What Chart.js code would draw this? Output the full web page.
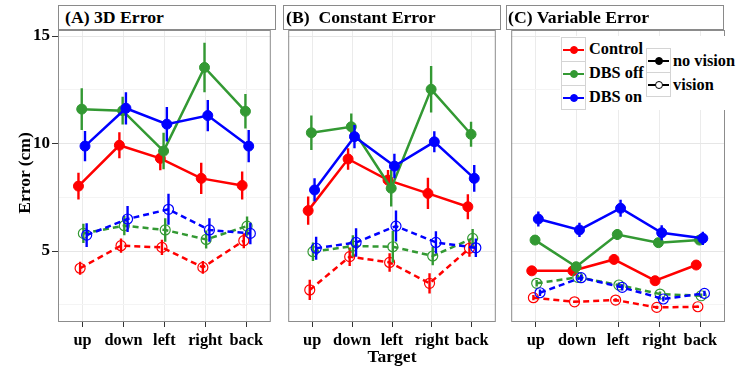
<!DOCTYPE html>
<html><head><meta charset="utf-8">
<script src="https://cdn.jsdelivr.net/npm/chart.js@4.4.0/dist/chart.umd.min.js"></script>
<style>
body{margin:0;width:737px;height:367px;background:#fff;position:relative;overflow:hidden;font-family:'Liberation Serif','Times New Roman',serif;font-weight:bold;color:#000}
canvas{position:absolute;top:0}
.strip{position:absolute;top:5px;height:25px;width:218px;box-sizing:border-box;border:1px solid #8a8a8a;background:#fff;font-size:17.7px;line-height:23px;white-space:pre;z-index:2}
.lbl{position:absolute;font-size:17.5px;line-height:20px;white-space:nowrap;z-index:2}
.legbg{position:absolute;left:560px;top:36px;width:177px;height:74px;background:#fff;z-index:3}
.key{position:absolute;width:25px;height:25px;box-sizing:border-box;border:1px solid #d4d4d4;background:#fff;z-index:4}
.ln{position:absolute;left:1px;right:1px;top:10.5px;height:2px}
.dt{position:absolute;left:7.5px;top:7.5px;width:8px;height:8px;border-radius:50%;box-sizing:border-box;border:1.5px solid}
.lt{position:absolute;font-size:16.3px;line-height:18px;white-space:nowrap;z-index:4}
</style>
</head><body>
<canvas id="cA" width="277" height="367" style="left:0px"></canvas>
<canvas id="cB" width="220" height="367" style="left:282px"></canvas>
<canvas id="cC" width="232" height="367" style="left:505px"></canvas>

<div class="strip" style="left:58px;padding-left:6px">(A) 3D Error</div>
<div class="strip" style="left:283px;padding-left:2px">(B)&nbsp;&nbsp;Constant Error</div>
<div class="strip" style="left:506px;padding-left:1px">(C) Variable Error</div>

<div class="lbl" style="left:-26px;top:163px;width:100px;text-align:center;transform:rotate(-90deg)">Error (cm)</div>
<div class="lbl" style="left:342px;top:346px;width:100px;text-align:center">Target</div>

<div class="legbg"></div>
<div class="key" style="left:561px;top:37px"><i class="ln" style="background:#ff0000"></i><i class="dt" style="background:#ff0000;border-color:#ff0000"></i></div>
<div class="key" style="left:561px;top:61px"><i class="ln" style="background:#339933"></i><i class="dt" style="background:#339933;border-color:#339933"></i></div>
<div class="key" style="left:561px;top:85px"><i class="ln" style="background:#0000ff"></i><i class="dt" style="background:#0000ff;border-color:#0000ff"></i></div>
<div class="lt" style="left:589px;top:40px">Control</div>
<div class="lt" style="left:589px;top:64px">DBS off</div>
<div class="lt" style="left:589px;top:88px">DBS on</div>
<div class="key" style="left:646px;top:48px"><i class="ln" style="background:#000"></i><i class="dt" style="background:#000;border-color:#000"></i></div>
<div class="key" style="left:646px;top:72px"><i class="ln" style="background:#000"></i><i class="dt" style="background:#fff;border-color:#000"></i></div>
<div class="lt" style="left:673px;top:52px">no vision</div>
<div class="lt" style="left:673px;top:76px">vision</div>

<script>
// ---- data ----
const categories = ['up', 'down', 'left', 'right', 'back'];
const yTicks = [2.5, 5, 7.5, 10, 12.5, 15];

// (A) 3D Error
const ctrlNoA  = [8.02, 9.92, 9.31, 8.38, 8.05];   const ctrlNoAErr  = [0.62, 0.60, 0.55, 0.73, 0.65];
const offNoA   = [11.60, 11.53, 9.65, 13.54, 11.50]; const offNoAErr = [0.97, 0.65, 0.85, 1.15, 0.80];
const onNoA    = [9.88, 11.64, 10.90, 11.30, 9.88]; const onNoAErr   = [0.70, 0.75, 0.80, 0.73, 0.75];
const ctrlVisA = [4.20, 5.25, 5.17, 4.24, 5.48];   const ctrlVisAErr = [0.30, 0.33, 0.35, 0.30, 0.35];
const offVisA  = [5.82, 6.18, 5.98, 5.54, 6.16];   const offVisAErr  = [0.45, 0.45, 0.55, 0.42, 0.45];
const onVisA   = [5.74, 6.49, 6.94, 5.98, 5.82];   const onVisAErr   = [0.55, 0.60, 0.72, 0.55, 0.50];

// (B) Constant Error
const ctrlNoB  = [6.88, 9.28, 8.30, 7.68, 7.06];   const ctrlNoBErr  = [0.66, 0.50, 0.47, 0.73, 0.58];
const offNoB   = [10.50, 10.78, 7.92, 12.52, 10.43]; const offNoBErr = [0.80, 0.62, 0.85, 1.08, 0.58];
const onNoB    = [7.84, 10.32, 8.95, 10.08, 8.38]; const onNoBErr    = [0.54, 0.54, 0.57, 0.49, 0.62];
const ctrlVisB = [3.19, 4.74, 4.47, 3.50, 5.13];   const ctrlVisBErr = [0.47, 0.43, 0.43, 0.47, 0.39];
const offVisB  = [4.97, 5.23, 5.20, 4.77, 5.59];   const offVisBErr  = [0.43, 0.50, 0.74, 0.43, 0.44];
const onVisB   = [5.13, 5.40, 6.16, 5.40, 5.15];   const onVisBErr   = [0.53, 0.66, 0.72, 0.52, 0.43];

// (C) Variable Error
const ctrlNoC  = [4.08, 4.08, 4.61, 3.62, 4.35];   const ctrlNoCErr  = [0.10, 0.08, 0.10, 0.10, 0.08];
const offNoC   = [5.51, 4.27, 5.77, 5.39, 5.51];   const offNoCErr   = [0.22, 0.15, 0.25, 0.18, 0.15];
const onNoC    = [6.49, 5.98, 6.99, 5.85, 5.59];   const onNoCErr    = [0.35, 0.33, 0.39, 0.35, 0.31];
const ctrlVisC = [2.83, 2.64, 2.72, 2.38, 2.41];   const ctrlVisCErr = [0.12, 0.05, 0.08, 0.08, 0.06];
const offVisC  = [3.50, 3.78, 3.42, 3.00, 2.92];   const offVisCErr  = [0.15, 0.12, 0.12, 0.12, 0.10];
const onVisC   = [3.06, 3.76, 3.31, 2.77, 3.03];   const onVisCErr   = [0.15, 0.15, 0.15, 0.12, 0.12];

// ---- styles ----
const COL = {ctrl: '#ff0000', off: '#339933', on: '#0000ff'};
const ORD = {ctrl: 2, off: 1, on: 0};
const FONT = "'Liberation Serif','Times New Roman',serif";
const DODGE = 0.04;

function groupSets(key, vision, vals, errs, gidx) {
  const off = (gidx - 2.5) * DODGE;
  const color = COL[key];
  const line = {
    data: vals.map((v, i) => ({x: i + 1 + off, y: v})),
    borderColor: color, borderWidth: 2.5,
    borderDash: vision ? [6, 4] : [],
    pointRadius: vision ? 5 : 5, pointHoverRadius: 0,
    pointBackgroundColor: vision ? 'rgba(0,0,0,0)' : color,
    pointBorderColor: color, pointBorderWidth: vision ? 1.2 : 1,
    order: ORD[key] * 2 + (vision ? 1 : 0)
  };
  const ed = [];
  vals.forEach((v, i) => {
    ed.push({x: i + 1 + off, y: v - errs[i]}, {x: i + 1 + off, y: v + errs[i]}, {x: i + 1 + off, y: null});
  });
  const err = {
    data: ed, borderColor: color, borderWidth: 2.4, pointRadius: 0, pointHoverRadius: 0,
    spanGaps: false, order: ORD[key] * 2 + (vision ? 1 : 0)
  };
  return [err, line];
}

const frame = {
  id: 'frame',
  afterDatasetsDraw(chart) {
    const {ctx, chartArea: a} = chart;
    ctx.save();
    ctx.strokeStyle = '#8c8c8c';
    ctx.lineWidth = 1;
    ctx.strokeRect(a.left + 0.5, a.top + 0.5, a.right - a.left - 1, a.bottom - a.top - 1);
    ctx.restore();
  }
};

function makePanel(id, sets, showY, pad) {
  const datasets = [];
  sets.forEach(s => datasets.push(...groupSets(...s)));
  new Chart(document.getElementById(id), {
    type: 'line',
    data: {datasets},
    plugins: [frame],
    options: {
      responsive: false, animation: false, events: [],
      layout: {padding: pad},
      plugins: {legend: {display: false}, tooltip: {enabled: false}},
      scales: {
        x: {
          type: 'linear', min: 0.4, max: 5.6,
          afterBuildTicks: s => { s.ticks = categories.map((c, i) => ({value: i + 1})); },
          afterFit: s => { s.height = 45; },
          ticks: {
            autoSkip: false, maxRotation: 0, padding: 4, color: '#000',
            font: {family: FONT, size: 16.3, weight: 'bold'},
            callback: (v, i) => categories[i]
          },
          grid: {color: '#ebebeb', lineWidth: 1, tickLength: 5, tickColor: '#333', drawTicks: true},
          border: {display: false}
        },
        y: {
          type: 'linear', min: 1.7, max: 15.28,
          afterBuildTicks: s => { s.ticks = yTicks.map(v => ({value: v})); },
          afterFit: s => { s.width = showY ? 58 : 0; },
          ticks: {
            display: showY, padding: 2, color: '#000',
            font: {family: FONT, size: 17, weight: 'bold'},
            callback: v => (v % 5 === 0 ? String(v) : '')
          },
          grid: {
            color: c => (c.tick && c.tick.value % 5 === 0 ? '#e6e6e6' : '#f4f4f4'),
            lineWidth: 1,
            drawTicks: showY, tickLength: 6,
            tickColor: c => (c.tick && c.tick.value % 5 === 0 ? '#333' : 'rgba(0,0,0,0)')
          },
          border: {display: false}
        }
      }
    }
  });
}

makePanel('cA', [
  ['ctrl', false, ctrlNoA, ctrlNoAErr, 0], ['ctrl', true, ctrlVisA, ctrlVisAErr, 1],
  ['off', false, offNoA, offNoAErr, 2], ['off', true, offVisA, offVisAErr, 3],
  ['on', false, onNoA, onNoAErr, 4], ['on', true, onVisA, onVisAErr, 5]
], true, {top: 30, left: 0, right: 1, bottom: 0});

makePanel('cB', [
  ['ctrl', false, ctrlNoB, ctrlNoBErr, 0], ['ctrl', true, ctrlVisB, ctrlVisBErr, 1],
  ['off', false, offNoB, offNoBErr, 2], ['off', true, offVisB, offVisBErr, 3],
  ['on', false, onNoB, onNoBErr, 4], ['on', true, onVisB, onVisBErr, 5]
], false, {top: 30, left: 1, right: 1, bottom: 0});

makePanel('cC', [
  ['ctrl', false, ctrlNoC, ctrlNoCErr, 0], ['ctrl', true, ctrlVisC, ctrlVisCErr, 1],
  ['off', false, offNoC, offNoCErr, 2], ['off', true, offVisC, offVisCErr, 3],
  ['on', false, onNoC, onNoCErr, 4], ['on', true, onVisC, onVisCErr, 5]
], false, {top: 30, left: 1, right: 12, bottom: 0});
</script>
</body></html>
